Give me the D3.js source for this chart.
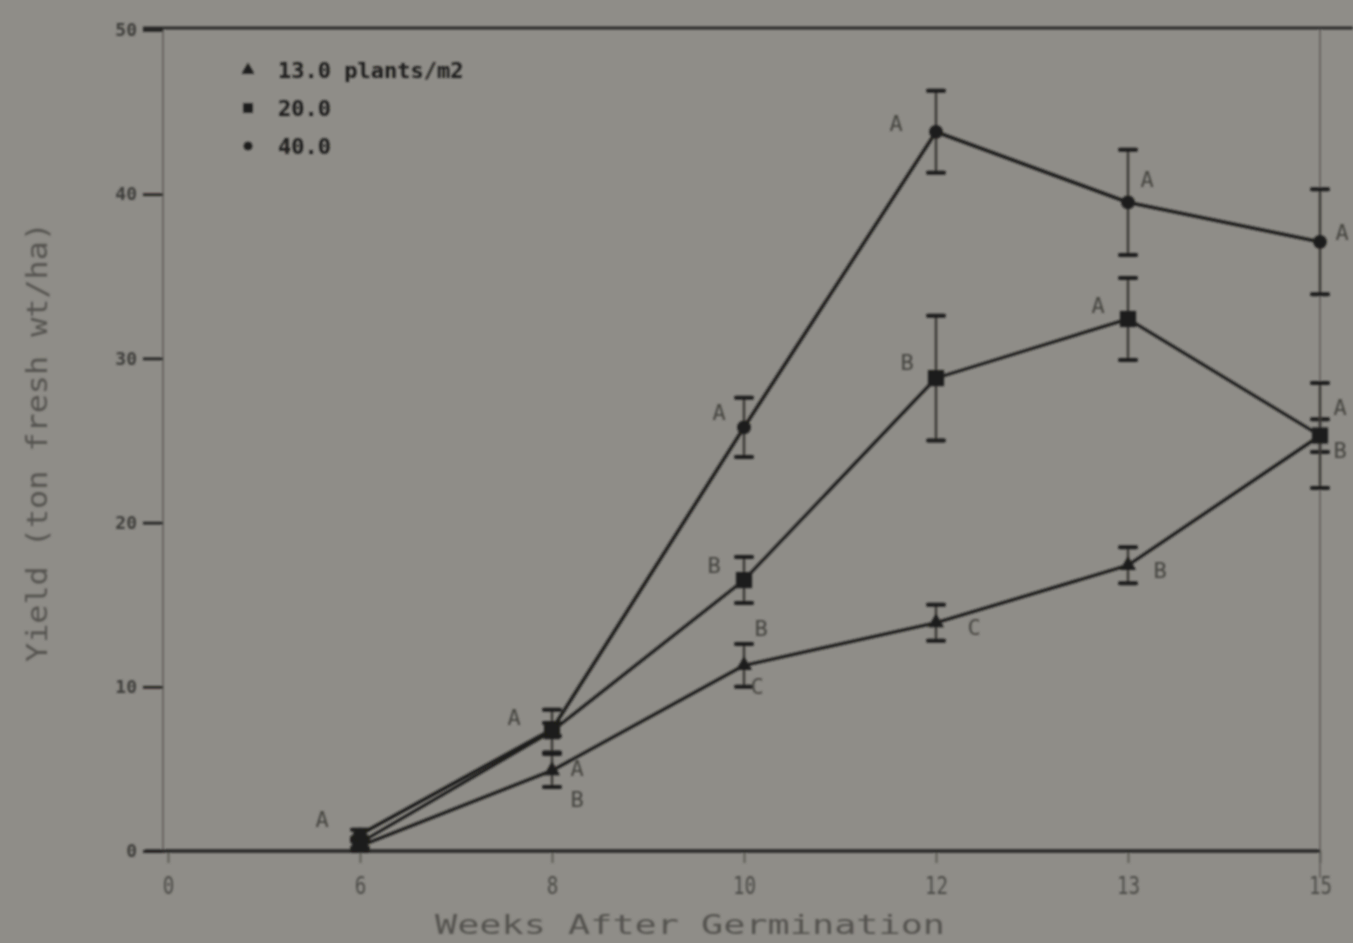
<!DOCTYPE html>
<html>
<head>
<meta charset="utf-8">
<script src="https://cdn.jsdelivr.net/npm/d3@7"></script>
<style>
  html, body { margin: 0; padding: 0; background: #8f8d88; }
  svg { display: block; }
</style>
</head>
<body>
<svg id="chart" width="1353" height="943"></svg>
<script>
// Sampling weeks and tick labels of the (evenly spaced) week axis
const xTickLabels = ["0", "6", "8", "10", "12", "13", "15"];
const weeks = ["6", "8", "10", "12", "13", "15"];
const yTicks = [0, 10, 20, 30, 40, 50];

// Yield (ton fresh wt/ha) by planting density
const yield13 = [0.3, 4.9, 11.3, 13.9, 17.4, 25.3];
const yield20 = [0.5, 7.3, 16.5, 28.8, 32.4, 25.3];
const yield40 = [1.0, 7.4, 25.8, 43.8, 39.5, 37.1];

// Half-widths of the error bars
const err13 = [0.3, 1.0, 1.3, 1.1, 1.1, 1.0];
const err20 = [0.3, 1.3, 1.4, 3.8, 2.5, 3.2];
const err40 = [0.3, 0.4, 1.8, 2.5, 3.2, 3.2];

// Mean-separation letters (null = none drawn)
const letters13 = [null, ["B"], ["B", "C"], ["C"], ["B"], ["B"]];
const letters20 = [null, ["A"], ["B"], ["B"], ["A"], ["A"]];
const letters40 = [["A"], ["A"], ["A"], ["A"], ["A"], ["A"]];

const legendLabels = ["13.0 plants/m2", "20.0", "40.0"];

// Where each letter sits relative to its point
const letterOffsets13 = [null, [[25, 29]], [[17, -37], [13, 21]], [[38, 5]], [[32, 5]], [[20, 15]]];
const letterOffsets20 = [null, [[25, 37]], [[-30, -15]], [[-29, -16]], [[-30, -13]], [[20, -28]]];
const letterOffsets40 = [[[-38, -15]], [[-38, -12]], [[-25, -15]], [[-40, -8]], [[19, -23]], [[22, -9]]];

const svg = d3.select("#chart");
const ink = "#1c1b1a";

const defs = svg.append("defs");
defs.append("filter").attr("id", "soft")
  .append("feGaussianBlur").attr("stdDeviation", 0.8);

const root = svg.append("g").attr("filter", "url(#soft)");

const x = d3.scalePoint().domain(xTickLabels).range([168, 1320]);
const y = d3.scaleLinear().domain([0, 50]).range([851, 30]);

// Frame: faint left and right rules, dark top rule and baseline
root.append("line").attr("x1", 163).attr("x2", 163).attr("y1", 28).attr("y2", 851)
  .attr("stroke", "#6a6864").attr("stroke-width", 2);
root.append("line").attr("x1", x("15")).attr("x2", x("15")).attr("y1", 28).attr("y2", 878)
  .attr("stroke", "#6a6864").attr("stroke-width", 2);
root.append("line").attr("x1", 143).attr("x2", 1353).attr("y1", y(50) - 2).attr("y2", y(50) - 2)
  .attr("stroke", ink).attr("stroke-width", 2.5);

// Y axis
const yAxis = d3.axisLeft(y).tickValues(yTicks).tickSize(20).tickFormat(d3.format("d"));
const yg = root.append("g").attr("transform", "translate(163,0)").call(yAxis);
yg.select(".domain").remove();
yg.selectAll(".tick line").attr("stroke", ink).attr("stroke-width", 2.5);
yg.selectAll(".tick text").attr("fill", "#3e3d3a").attr("font-family", "DejaVu Sans Mono")
  .attr("font-size", 18).attr("font-weight", "bold").attr("x", -26)
  .attr("dy", "0.32em");

// X axis
const xAxis = d3.axisBottom(x).tickSize(12).tickPadding(14);
const xg = root.append("g").attr("transform", `translate(0,${y(0)})`).call(xAxis);
xg.select(".domain").remove();
xg.selectAll(".tick line").attr("stroke", "#5e5d59").attr("stroke-width", 2);
xg.selectAll(".tick text").attr("fill", "#4c4b47").attr("font-family", "DejaVu Sans Mono")
  .attr("font-size", 24).attr("transform", "scale(0.8,1)");
root.append("line").attr("x1", 145).attr("x2", x("15")).attr("y1", y(0)).attr("y2", y(0))
  .attr("stroke", ink).attr("stroke-width", 3);

// Axis titles (wide plotter lettering)
root.append("text").attr("x", 690).attr("y", 934).attr("text-anchor", "middle")
  .attr("font-family", "DejaVu Sans Mono").attr("font-size", 26).attr("fill", "#54534f")
  .attr("textLength", 510).attr("lengthAdjust", "spacingAndGlyphs")
  .text("Weeks After Germination");
root.append("text").attr("transform", "translate(47,442) rotate(-90)").attr("text-anchor", "middle")
  .attr("font-family", "DejaVu Sans Mono").attr("font-size", 28).attr("fill", "#54534f")
  .attr("textLength", 440).attr("lengthAdjust", "spacingAndGlyphs")
  .text("Yield (ton fresh wt/ha)");

const series = [
  { vals: yield13, err: err13, letters: letters13, offs: letterOffsets13, shape: d3.symbolTriangle, size: 110, lw: 3.2 },
  { vals: yield20, err: err20, letters: letters20, offs: letterOffsets20, shape: d3.symbolSquare, size: 260, lw: 3 },
  { vals: yield40, err: err40, letters: letters40, offs: letterOffsets40, shape: d3.symbolCircle, size: 150, lw: 3.4 }
];

const line = d3.line().x(d => x(d.w)).y(d => y(d.v));

series.forEach(s => {
  const pts = weeks.map((w, i) => ({ w, v: s.vals[i], e: s.err[i], i }));
  const g = root.append("g");

  // Error bars
  const eb = g.selectAll(".eb").data(pts).enter().append("g");
  eb.append("line").attr("x1", d => x(d.w)).attr("x2", d => x(d.w))
    .attr("y1", d => y(d.v + d.e)).attr("y2", d => y(d.v - d.e))
    .attr("stroke", "#3a3936").attr("stroke-width", 2.5);
  [1, -1].forEach(sg => {
    eb.append("line").attr("x1", d => x(d.w) - 8).attr("x2", d => x(d.w) + 8)
      .attr("y1", d => y(d.v + sg * d.e)).attr("y2", d => y(d.v + sg * d.e))
      .attr("stroke", ink).attr("stroke-width", 4).attr("stroke-linecap", "round");
  });

  // Trend line
  g.append("path").datum(pts).attr("d", line).attr("fill", "none")
    .attr("stroke", ink).attr("stroke-width", s.lw).attr("stroke-linejoin", "round");

  // Markers
  g.selectAll(".m").data(pts).enter().append("path")
    .attr("transform", d => `translate(${x(d.w)},${y(d.v)})`)
    .attr("d", d3.symbol().type(s.shape).size(s.size)).attr("fill", ink);

  // Letters
  pts.forEach(p => {
    const ls = s.letters[p.i];
    if (!ls) return;
    ls.forEach((L, k) => {
      const o = s.offs[p.i][k];
      g.append("text").attr("x", x(p.w) + o[0]).attr("y", y(p.v) + o[1])
        .attr("text-anchor", "middle").attr("dominant-baseline", "central")
        .attr("font-family", "DejaVu Sans Mono").attr("font-size", 22)
        .attr("fill", "#45443f").text(L);
    });
  });
});

// Legend
const legendShapes = [d3.symbolTriangle, d3.symbolSquare, d3.symbolCircle];
const legendSizes = [70, 90, 60];
const lg = root.append("g");
legendLabels.forEach((t, i) => {
  const ly = 70 + i * 38;
  lg.append("path").attr("transform", `translate(248,${ly})`)
    .attr("d", d3.symbol().type(legendShapes[i]).size(legendSizes[i])).attr("fill", ink);
  lg.append("text").attr("x", 278).attr("y", ly).attr("dominant-baseline", "central")
    .attr("font-family", "DejaVu Sans Mono").attr("font-weight", "bold").attr("font-size", 22)
    .attr("fill", ink).text(t);
});
</script>
</body>
</html>
